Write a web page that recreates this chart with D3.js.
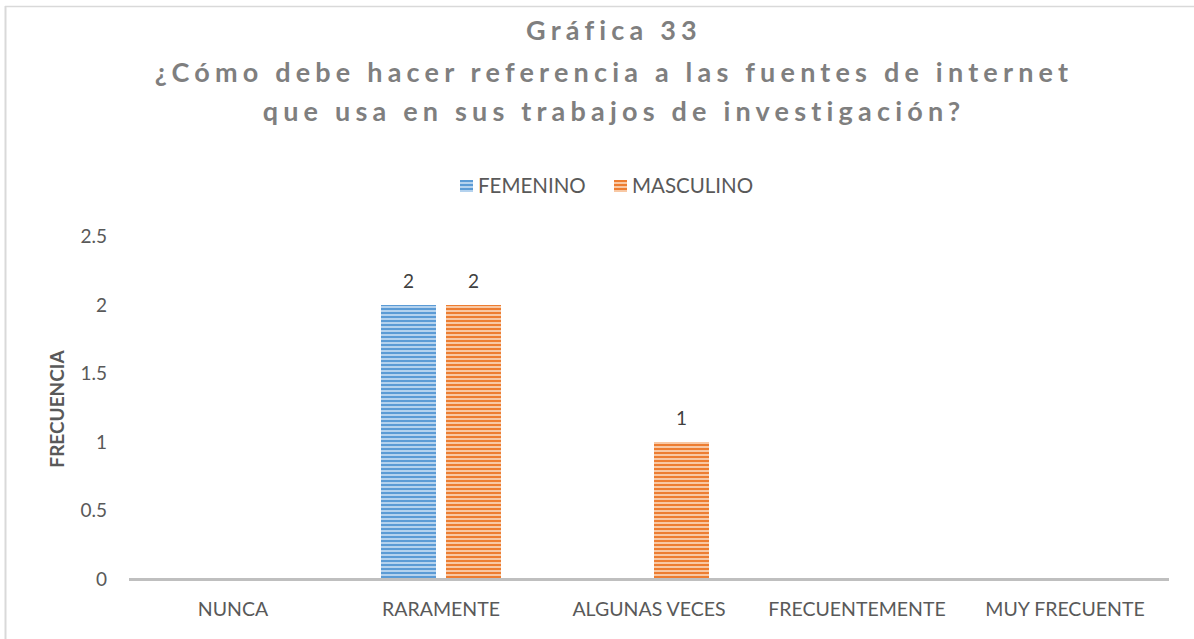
<!DOCTYPE html>
<html>
<head>
<meta charset="utf-8">
<script src="https://cdn.jsdelivr.net/npm/d3@7"></script>
<style>
  body { margin: 0; background: #fff; }
  svg text { font-family: Lato, "Open Sans", sans-serif; }
</style>
</head>
<body>
<div id="chartdiv"></div>
<script>
//chart data
var categories = ["NUNCA", "RARAMENTE", "ALGUNAS VECES", "FRECUENTEMENTE", "MUY FRECUENTE"];
var seriesNames = ["FEMENINO", "MASCULINO"];
var femenino = [0, 2, 0, 0, 0];
var masculino = [0, 2, 1, 0, 0];
var yTicks = [0, 0.5, 1, 1.5, 2, 2.5];
var titleLines = ["Gráfica 33", "¿Cómo debe hacer referencia a las fuentes de internet", "que usa en sus trabajos de investigación?"];

(function(){
  var width = 1194, height = 639;
  var colors = [
    {dark: "#5b9bd5", light: "#b4d2ee"},
    {dark: "#ed7d31", light: "#f8c8a4"}
  ];

  var svg = d3.select("#chartdiv")
      .append("svg")
      .attr("width", width)
      .attr("height", height);

  //stripe patterns for the bars
  var defs = svg.append("defs");
  colors.forEach(function(c, i){
    var p = defs.append("pattern")
        .attr("id", "stripe" + i)
        .attr("patternUnits", "userSpaceOnUse")
        .attr("width", 8)
        .attr("height", 4);
    p.append("rect").attr("width", 8).attr("height", 4).attr("fill", c.light);
    p.append("rect").attr("width", 8).attr("height", 2).attr("fill", c.dark);
  });

  //chart border (left and top edges visible)
  svg.append("line")
      .attr("x1", 5.5).attr("x2", 5.5).attr("y1", 6).attr("y2", height)
      .attr("stroke", "#d9d9d9").attr("stroke-width", 2);
  svg.append("line")
      .attr("x1", 5).attr("x2", width).attr("y1", 6.5).attr("y2", 6.5)
      .attr("stroke", "#d9d9d9").attr("stroke-width", 1.5);

  //title
  var titleY = [31, 73, 112];
  titleLines.forEach(function(t, i){
    svg.append("text")
        .attr("x", 614)
        .attr("y", titleY[i])
        .attr("dy", "0.35em")
        .attr("text-anchor", "middle")
        .attr("fill", "#7f7f7f")
        .style("font-size", "27px")
        .style("font-weight", "bold")
        .style("letter-spacing", "5.2px")
        .text(t);
  });

  //plot area
  var margin = {left: 129, right: 1169, top: 236.5, bottom: 579};

  var x0 = d3.scaleBand()
      .domain(categories)
      .range([margin.left, margin.right]);

  var barW = 55, gap = 10;
  var x1 = function(s){ return s === 0 ? -(gap / 2 + barW) : gap / 2; };

  var y = d3.scaleLinear()
      .domain([0, 2.5])
      .range([margin.bottom, margin.top]);

  //y tick labels
  svg.selectAll(".ytick")
      .data(yTicks)
      .enter()
      .append("text")
      .attr("class", "ytick")
      .attr("x", 107)
      .attr("y", function(d){ return y(d); })
      .attr("dy", "0.35em")
      .attr("text-anchor", "end")
      .attr("fill", "#595959")
      .style("font-size", "19px")
      .text(function(d){ return d; });

  //y axis title
  svg.append("text")
      .attr("transform", "translate(57," + 409 + ") rotate(-90)")
      .attr("dy", "0.35em")
      .attr("text-anchor", "middle")
      .attr("fill", "#595959")
      .style("font-size", "19px")
      .style("font-weight", "bold")
      .text("FRECUENCIA");

  //bars
  var series = [femenino, masculino];
  series.forEach(function(vals, s){
    var bars = svg.selectAll(".bar" + s)
        .data(vals.map(function(v, i){ return {cat: categories[i], value: v}; }).filter(function(d){ return d.value > 0; }))
        .enter();
    bars.append("rect")
        .attr("class", "bar" + s)
        .attr("x", function(d){ return x0(d.cat) + x0.bandwidth() / 2 + x1(s); })
        .attr("y", function(d){ return y(d.value); })
        .attr("width", barW)
        .attr("height", function(d){ return y(0) - y(d.value); })
        .attr("fill", "url(#stripe" + s + ")");
    bars.append("text")
        .attr("x", function(d){ return x0(d.cat) + x0.bandwidth() / 2 + x1(s) + barW / 2; })
        .attr("y", function(d){ return y(d.value) - 24; })
        .attr("dy", "0.35em")
        .attr("text-anchor", "middle")
        .attr("fill", "#404040")
        .style("font-size", "19px")
        .text(function(d){ return d.value; });
  });

  //baseline
  svg.append("line")
      .attr("x1", margin.left).attr("x2", margin.right)
      .attr("y1", y(0) + 0.5).attr("y2", y(0) + 0.5)
      .attr("stroke", "#bfbfbf").attr("stroke-width", 3);

  //category labels
  svg.selectAll(".xlabel")
      .data(categories)
      .enter()
      .append("text")
      .attr("class", "xlabel")
      .attr("x", function(d){ return x0(d) + x0.bandwidth() / 2; })
      .attr("y", 609)
      .attr("dy", "0.35em")
      .attr("text-anchor", "middle")
      .attr("fill", "#595959")
      .style("font-size", "19.5px")
      .text(function(d){ return d; });

  //legend
  var legendX = [460, 614];
  seriesNames.forEach(function(n, i){
    svg.append("rect")
        .attr("x", legendX[i])
        .attr("y", 180)
        .attr("width", 13)
        .attr("height", 12)
        .attr("fill", "url(#stripe" + i + ")");
    svg.append("text")
        .attr("x", legendX[i] + 18)
        .attr("y", 186)
        .attr("dy", "0.35em")
        .attr("fill", "#595959")
        .style("font-size", "20.5px")
        .text(n);
  });
})();
</script>
</body>
</html>
